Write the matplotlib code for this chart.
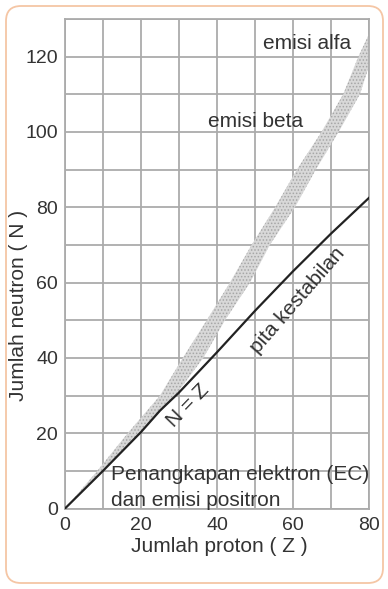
import matplotlib
matplotlib.use("Agg")
import matplotlib.pyplot as plt
from matplotlib.patches import FancyBboxPatch

plt.rcParams['font.family'] = ['Liberation Sans', 'DejaVu Sans']
plt.rcParams['hatch.linewidth'] = 0.7

# pita abu-abu: batas kiri dan kanan (Z) untuk tiap nilai N
pita_n = [0, 10, 20, 30, 40, 50, 60, 70, 80, 90, 100, 110, 120, 126, 131]
pita_z_kiri = [0, 8.5, 16.5, 25, 31, 37.3, 43.4, 49.1, 55.3, 61, 67.5, 73.2, 77.2, 80, 82]
pita_z_kanan = [0, 10.2, 19.8, 29, 36.4, 42.1, 48.7, 53.9, 60.5, 66, 72, 77.6, 80.8, 83, 85]

# garis hitam
garis_z = [0, 10, 20, 25, 30, 40, 50, 60, 70, 80]
garis_n = [0, 10, 20.3, 26, 30.8, 41.5, 52.5, 63, 73, 82.5]

x_ticks = [0, 20, 40, 60, 80]
y_ticks = [0, 20, 40, 60, 80, 100, 120]

abu = '#ababab'

fig = plt.figure(figsize=(3.88, 5.89), dpi=100)
ax = fig.add_axes([65 / 388, 80.5 / 589, 304 / 388, 489.5 / 589])

ax.fill_betweenx(pita_n, pita_z_kiri, pita_z_kanan, facecolor='#d8d8d8',
                 edgecolor='#a6a6a6', hatch='.....', linewidth=0, zorder=2)
ax.plot(garis_z, garis_n, color='#222222', linewidth=1.6, zorder=3)

ax.set_xlim(0, 80)
ax.set_ylim(0, 130)
ax.set_xticks(x_ticks)
ax.set_yticks(y_ticks)
ax.set_xticks(range(10, 80, 20), minor=True)
ax.set_yticks(range(10, 131, 20), minor=True)
ax.grid(True, which='both', color=abu, linewidth=1.3, zorder=1)
ax.set_axisbelow(True)
ax.tick_params(which='both', length=0, labelsize=14, colors='#333333')
ax.tick_params(axis='x', pad=6)
ax.tick_params(axis='y', pad=5)
for s in ax.spines.values():
    s.set_color(abu)
    s.set_linewidth(1.3)

teks = '#333333'
ax.text(52.1, 123.5, 'emisi alfa', fontsize=15, color=teks, va='center', zorder=4)
ax.text(37.7, 102.8, 'emisi beta', fontsize=15, color=teks, va='center', zorder=4)
ax.text(61.2, 55.4, 'pita kestabilan', fontsize=15, color=teks, rotation=49,
        ha='center', va='center', rotation_mode='anchor', zorder=4)
ax.text(32.4, 27.2, 'N = Z', fontsize=15, color=teks, rotation=46,
        ha='center', va='center', rotation_mode='anchor', zorder=4)
ax.text(12.1, 8.9, 'Penangkapan elektron (EC)', fontsize=15, color=teks,
        va='center', clip_on=False, zorder=4)
ax.text(12.1, 2.2, 'dan emisi positron', fontsize=15, color=teks,
        va='center', clip_on=False, zorder=4)

fig.text(219.7 / 388, 1 - 546.7 / 589, 'Jumlah proton ( Z )', fontsize=15,
         color=teks, ha='center', va='center')
fig.text(18.5 / 388, 1 - 305 / 589, 'Jumlah neutron ( N )', fontsize=15,
         color=teks, ha='center', va='center', rotation=90)

# bingkai oranye
bingkai = FancyBboxPatch((0.06, 0.06), 3.77, 5.77, boxstyle='round,pad=0,rounding_size=0.15',
                         transform=fig.dpi_scale_trans, facecolor='none',
                         edgecolor='#f5c6a5', linewidth=1.3)
fig.patches.append(bingkai)

fig.savefig('out.png', dpi=100)
